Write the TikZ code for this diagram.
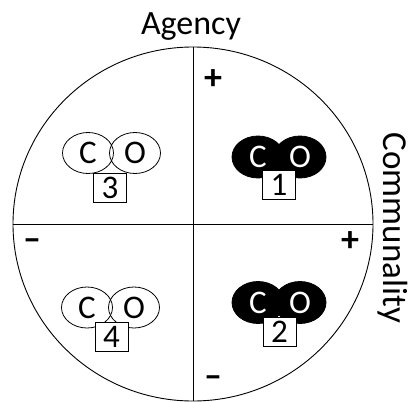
\documentclass[tikz,border=0pt]{standalone}
\usepackage{fontspec}
\setmainfont{Carlito}
\usetikzlibrary{shapes.geometric}
\tikzset{
  lbl/.style={font=\fontsize{34}{40}\selectfont, inner sep=0pt},
  atomw/.style={ellipse, draw, line width=0.8pt, minimum width=51pt, minimum height=41pt, inner sep=0pt, font=\fontsize{33}{38}\selectfont},
  atomb/.style={ellipse, draw, fill=black, text=white, line width=0.8pt, minimum width=52pt, minimum height=42pt, inner sep=0pt, font=\fontsize{33}{38}\selectfont},
  numbox/.style={rectangle, draw, fill=white, line width=0.8pt, minimum width=33pt, minimum height=29pt, inner sep=0pt, font=\fontsize{33}{38}\selectfont},
  sign/.style={font=\bfseries\fontsize{36}{40}\selectfont, inner sep=0pt}
}
\begin{document}
\begin{tikzpicture}[x=1pt,y=-1pt]
\useasboundingbox (0,0) rectangle (409,401);
\node[ellipse, draw, line width=0.9pt, minimum width=360pt, minimum height=354pt, inner sep=0pt] (ring) at (193,224) {};
\draw[line width=0.9pt] (ring.west) -- (ring.east);
\draw[line width=0.9pt] (ring.north) -- (ring.south);
\node[lbl, anchor=base] (agency) at (191,35) {Agency};
\node[lbl, anchor=base, rotate=-90, font=\fontsize{35}{40}\selectfont] (comm) at (383,228) {Communality};
% quadrant 1
\node[atomb] (c1) at (258,157) {C};
\node[atomb] (o1) at (300,157) {O};
\node[numbox] (n1) at (279,184.5) {1};
% quadrant 2
\node[atomb] (c2) at (258,302.5) {C};
\node[atomb] (o2) at (300,302.5) {O};
\node[numbox] (n2) at (279.5,332) {2};
% quadrant 3
\node[atomw] (c3) at (88,153) {C};
\node[atomw] (o3) at (135,153) {O};
\node[numbox] (n3) at (110,187.5) {3};
% quadrant 4
\node[atomw] (c4) at (87,307.5) {C};
\node[atomw] (o4) at (134,307.5) {O};
\node[numbox] (n4) at (111.5,336.5) {4};
% signs
\node[sign] (ptop) at (213,80) {+};
\node[sign] (pright) at (350,242) {+};
\node[sign] (mleft) at (32,245) {--};
\node[sign] (mbot) at (213,382) {--};
\end{tikzpicture}
\end{document}
